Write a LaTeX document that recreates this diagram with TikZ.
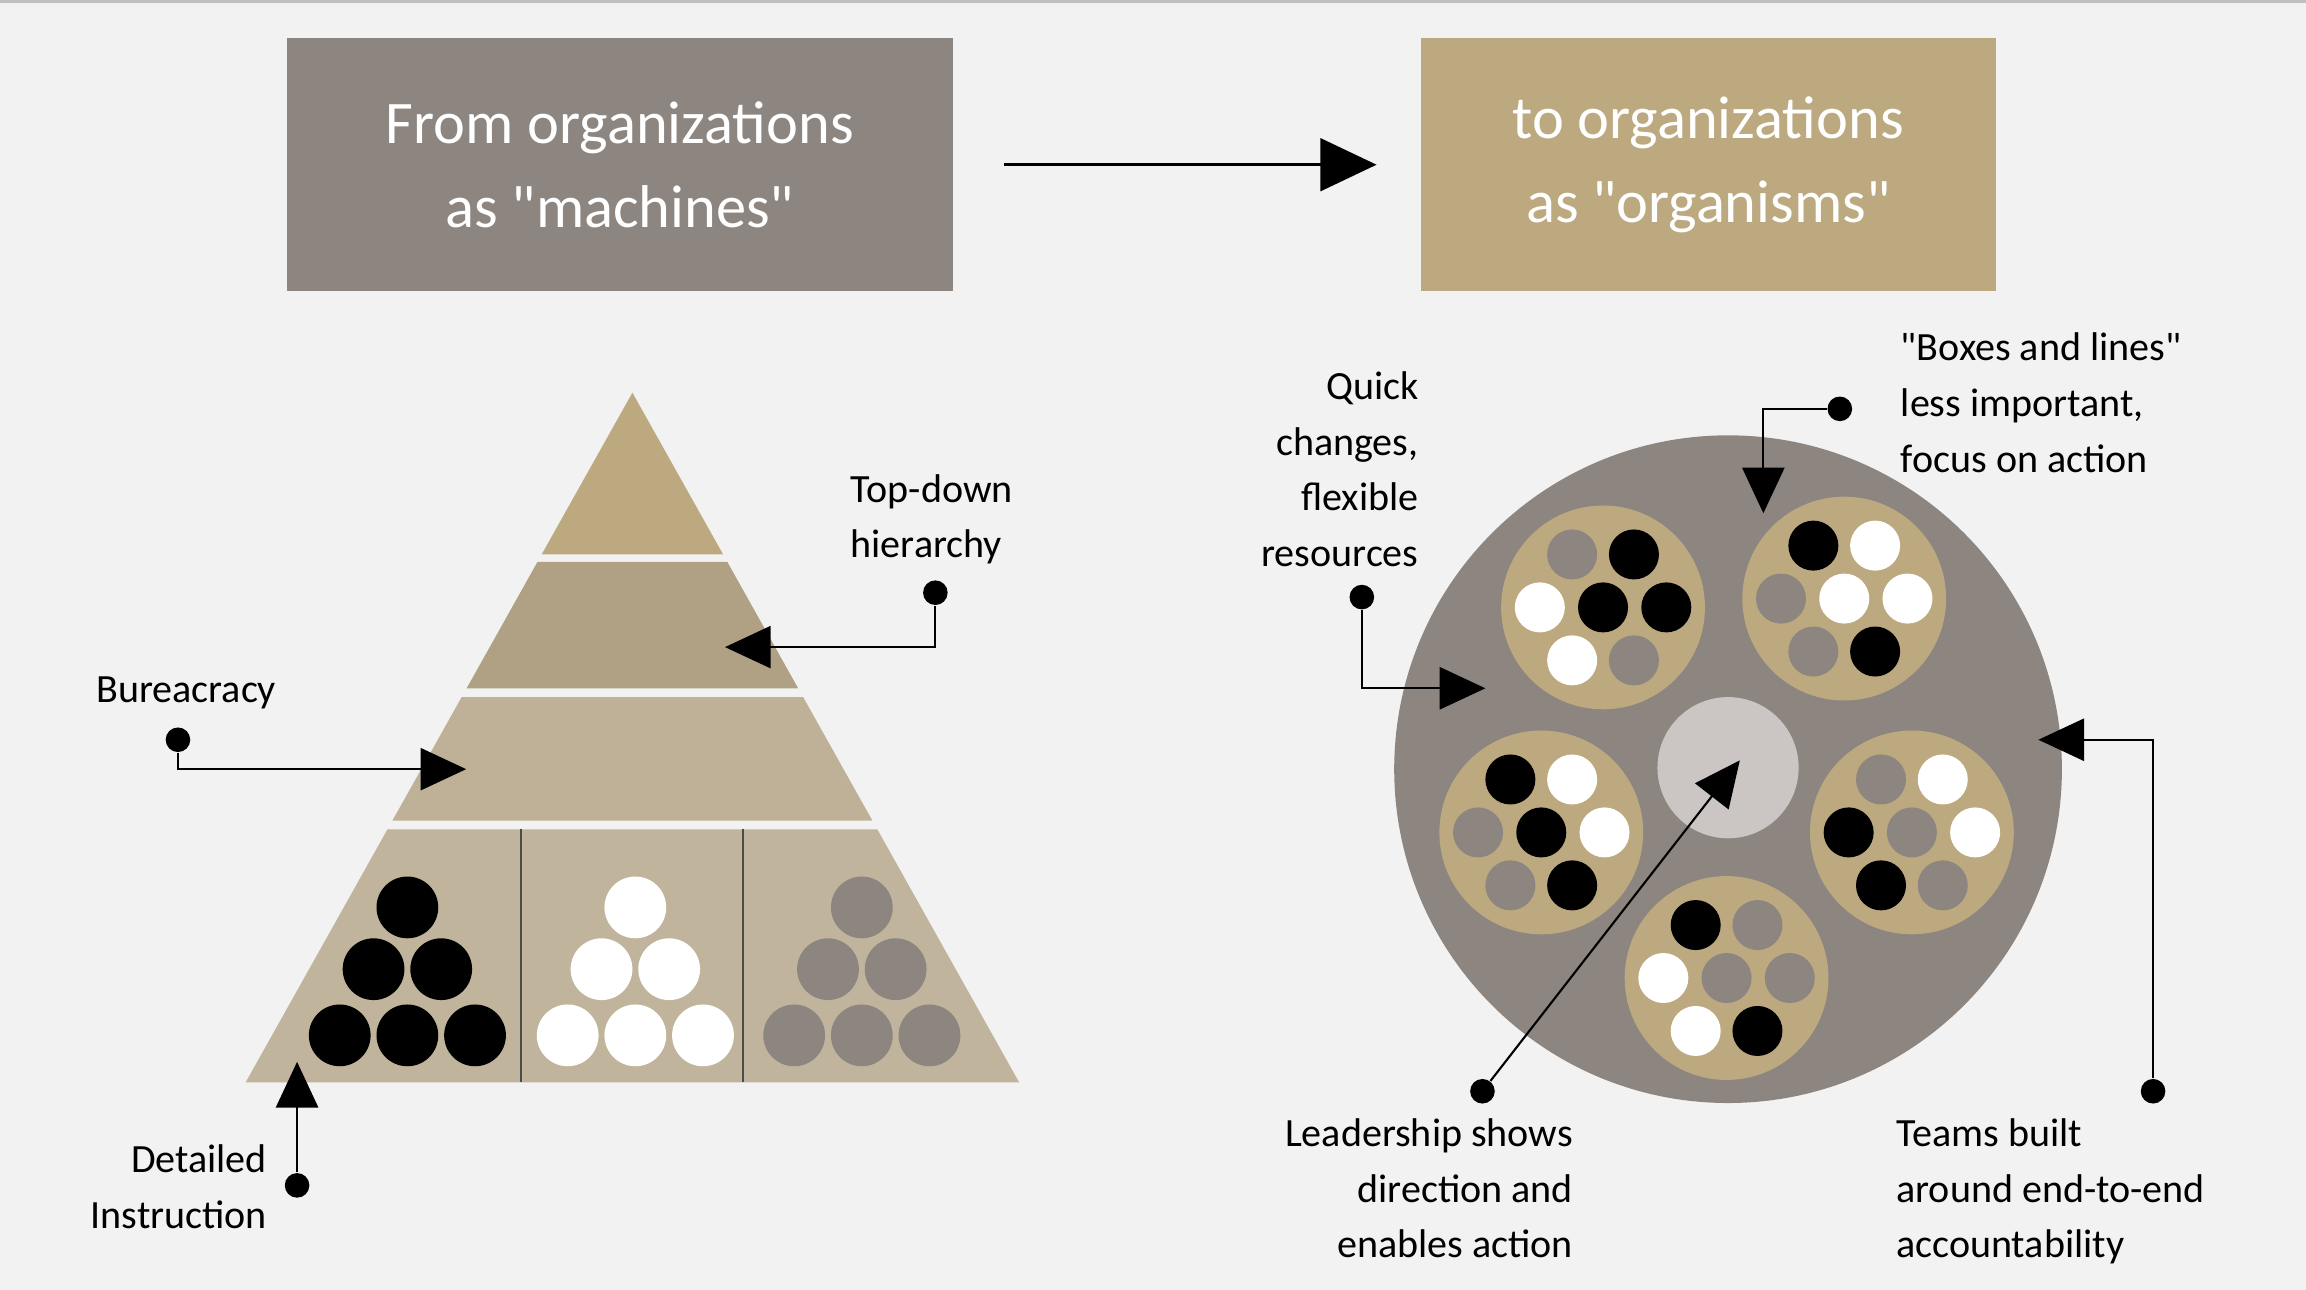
\documentclass[tikz,border=0pt]{standalone}
\usepackage{fontspec}
\setmainfont{Carlito}[Ligatures=TeXOff]
\usetikzlibrary{arrows.meta,positioning,calc}
\definecolor{machine}{HTML}{8C8580}
\definecolor{organism}{HTML}{BDA97F}
\definecolor{bg}{HTML}{F2F2F2}
\definecolor{layerA}{HTML}{BDA97F}
\definecolor{layerB}{HTML}{B0A084}
\definecolor{layerC}{HTML}{BEB198}
\definecolor{layerD}{HTML}{C1B49C}
\definecolor{leader}{HTML}{CBC6C3}
\tikzset{
  title/.style={text=white, font=\fontsize{17.2}{23.8}\selectfont, align=center},
  label/.style={font=\fontsize{11.4}{15.9}\selectfont, inner sep=0pt},
  pin/.style={circle, fill=black, minimum size=7pt, inner sep=0pt},
  callout/.style={-{Triangle[length=13pt,width=12pt]}, line width=0.6pt},
  big/.style={-{Triangle[length=16pt,width=15pt]}, line width=0.8pt},
  member/.style={circle, fill=organism, minimum size=58pt, inner sep=0pt}
}
\newcommand{\team}[8]{%
  \node[member] (#1) at (#2) {};
  \fill[#3] ($(#2)+(-21,-36)$) circle (17);
  \fill[#4] ($(#2)+(21,-36)$) circle (17);
  \fill[#5] ($(#2)+(-43,0)$) circle (17);
  \fill[#6] (#2) circle (17);
  \fill[#7] ($(#2)+(43,0)$) circle (17);
  \fill[#8] ($(#2)+(-21,36)$) circle (17);
}
\newcommand{\lastdot}[2]{\fill[#2] ($(#1)+(21,36)$) circle (17);}
\begin{document}
\begin{tikzpicture}[x=0.014707cm, y=-0.014707cm]
\useasboundingbox (0,0) rectangle (1568,877);
\fill[bg] (0,0) rectangle (1568,877);
\draw[gray!50, line width=1pt] (0,1) -- (1568,1);

% titles
\node[fill=machine, minimum width=453*0.014707cm, minimum height=172*0.014707cm, title] (from) at (421.5,112) {From organizations\\as "machines"};
\node[fill=organism, minimum width=391*0.014707cm, minimum height=172*0.014707cm, title] (to) at (1161.5,112) {to organizations\\as "organisms"};
\coordinate (arrowstart) at (683,112);
\coordinate (arrowend) at (936,112);
\draw[big] (arrowstart) -- (arrowend);

% pyramid
\fill[layerA] (430,267) -- (491.7,377) -- (368.3,377) -- cycle;
\fill[layerB] (365.5,382) -- (494.5,382) -- (542.7,468) -- (317.3,468) -- cycle;
\fill[layerC] (313.9,474) -- (546.1,474) -- (593.2,558) -- (266.8,558) -- cycle;
\fill[layerD] (263.4,564) -- (596.6,564) -- (693,736) -- (167,736) -- cycle;
\draw[black!70, line width=0.6pt] (354,564) -- (354,736) (505,564) -- (505,736);
\foreach \cx/\col in {277/black, 432/white, 586/machine} {
  \fill[\col] (\cx,617) circle (21);
  \fill[\col] (\cx-23,659) circle (21);
  \fill[\col] (\cx+23,659) circle (21);
  \fill[\col] (\cx-46,704) circle (21);
  \fill[\col] (\cx,704) circle (21);
  \fill[\col] (\cx+46,704) circle (21);
}

% pyramid labels
\node[label, align=left, anchor=north west] (topdown) at (578,322) {Top-down\\hierarchy};
\node[pin] (p1) at (636,403) {};
\coordinate (t1) at (493,440);
\draw[callout] (p1) |- (t1);
\node[label, anchor=west] (bureau) at (65,471) {Bureacracy};
\node[pin] (p2) at (121,503) {};
\coordinate (t2) at (317,523);
\draw[callout] (p2) |- (t2);
\node[label, align=right, anchor=north east] (detail) at (182,778) {Detailed\\Instruction};
\node[pin] (p3) at (202,806) {};
\coordinate (t3) at (202,722);
\draw[callout] (p3) -- (t3);

% organism
\fill[machine] (1175,523) circle (227);
\fill[leader] (1175,522) circle (48);
\team{teamA}{1090,413}{machine}{black}{white}{black}{black}{white}\lastdot{1090,413}{machine}
\team{teamB}{1254,407}{black}{white}{machine}{white}{white}{machine}\lastdot{1254,407}{black}
\team{teamC}{1048,566}{black}{white}{machine}{black}{white}{machine}\lastdot{1048,566}{black}
\team{teamD}{1300,566}{machine}{white}{black}{machine}{white}{black}\lastdot{1300,566}{machine}
\team{teamE}{1174,665}{black}{machine}{white}{machine}{machine}{white}\lastdot{1174,665}{black}

% organism labels
\node[label, align=right, anchor=north east] (quick) at (965,252) {Quick\\changes,\\flexible\\resources};
\node[pin] (p4) at (926,406) {};
\coordinate (t4) at (1010,468);
\draw[callout] (p4) |- (t4);
\node[label, align=left, anchor=north west] (boxes) at (1292,226) {"Boxes and lines"\\less important,\\focus on action};
\node[pin] (p5) at (1251,278) {};
\coordinate (t5) at (1199,349);
\draw[callout] (p5) -| (t5);
\node[label, align=left, anchor=north west] (teams) at (1289,760) {Teams built\\around end-to-end\\accountability};
\node[pin] (p6) at (1464,742) {};
\coordinate (t6) at (1386,503);
\draw[callout] (p6) |- (t6);
\node[label, align=right, anchor=north east] (lead) at (1070,760) {Leadership shows\\direction and\\enables action};
\node[pin] (p7) at (1008,742) {};
\coordinate (t7) at (1183,517);
\draw[callout] (p7) -- (t7);
\end{tikzpicture}
\end{document}
